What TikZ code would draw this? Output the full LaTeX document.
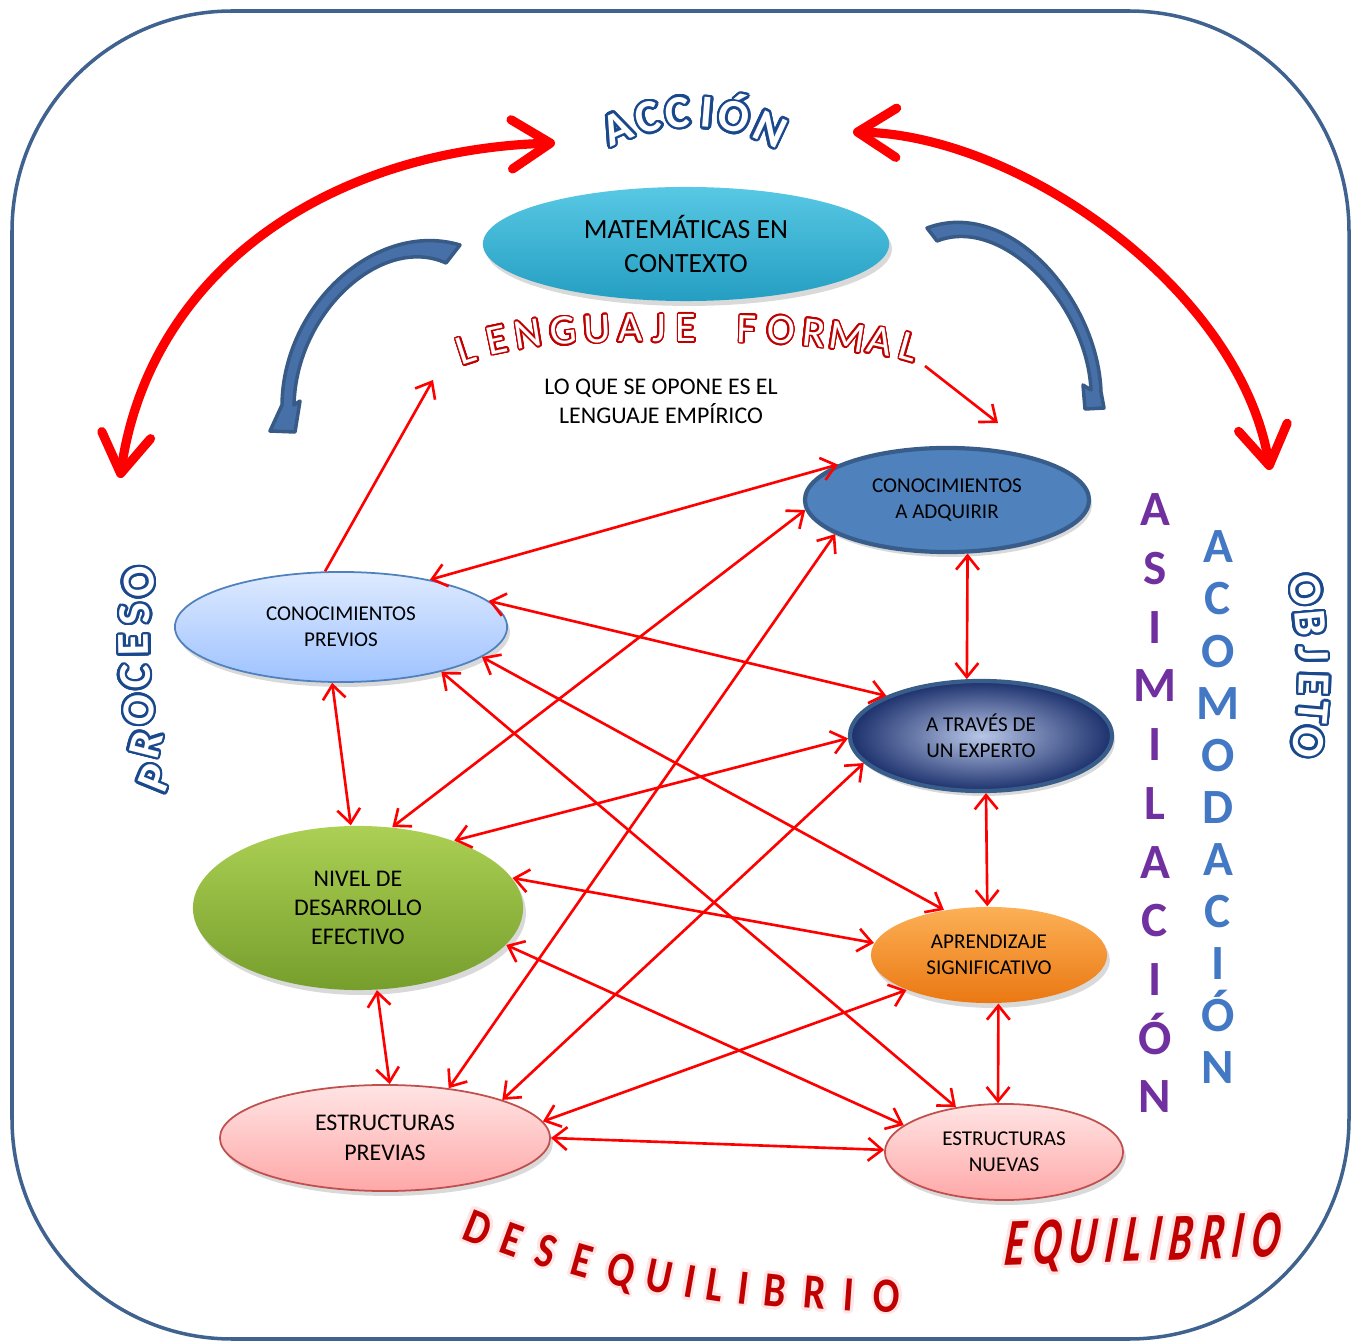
\documentclass[tikz,border=0pt]{standalone}
\usepackage{fontspec}
\setmainfont{Carlito}
\usepackage{contour}
\contourlength{0.7pt}
\contournumber{24}
\usetikzlibrary{shapes.geometric, arrows.meta, shadows}

\definecolor{marco}{RGB}{63,98,142}
\definecolor{azulosc}{RGB}{26,72,140}
\definecolor{granate}{RGB}{192,0,0}
\definecolor{morado}{RGB}{112,48,160}
\definecolor{acomoda}{RGB}{66,120,196}
\definecolor{flechazul}{RGB}{72,112,168}
\definecolor{flechazulb}{RGB}{55,90,135}

\tikzset{
  concepto/.style={ellipse, inner sep=0pt, align=center, text=black,
    drop shadow={opacity=.3, shadow xshift=.8pt, shadow yshift=-1.4pt}},
  flecha/.style={red, line width=.75pt, >={Straight Barb[length=4pt,width=6.5pt]}},
  doble/.style={flecha, <->},
  ciclo/.style={red, line width=2.6pt, line cap=round,
    >={Straight Barb[length=11pt,width=14pt,round]}, <->},
  giro/.style={fill=flechazul, draw=flechazulb, line width=1pt, line join=round},
  rotulo/.style={text=white, font=\bfseries\fontsize{13}{13}\selectfont,
    inner sep=0pt, text height=8.4pt, text depth=0pt},
  lengua/.style={text=white, font=\fontsize{12}{12}\selectfont,
    inner sep=0pt, text height=7.7pt, text depth=0pt},
  vertical/.style={font=\bfseries\fontsize{14}{14}\selectfont,
    inner sep=0pt, text height=9pt, text depth=0pt},
  desequi/.style={text=granate, font=\bfseries\fontsize{14}{14}\selectfont,
    inner sep=0pt, text height=9pt, text depth=0pt}
}

\begin{document}
\begin{tikzpicture}[x=0.01cm, y=-0.01cm]
\useasboundingbox (0,0) rectangle (1360,1343);
\draw[marco, line width=1pt, rounded corners=2.2cm] (12,11) rectangle (1349,1339);

% conceptos
\node[concepto, top color={rgb,255:red,88;green,200;blue,228}, bottom color={rgb,255:red,36;green,158;blue,194},
  minimum width=4.06cm, minimum height=1.14cm, font=\fontsize{7.9}{9.4}\selectfont]
  (mat) at (686,244) {MATEMÁTICAS EN\\CONTEXTO};
\node[concepto, fill={rgb,255:red,79;green,129;blue,189}, draw={rgb,255:red,56;green,93;blue,138}, line width=1.2pt,
  minimum width=2.84cm, minimum height=1.04cm, font=\fontsize{6}{7.6}\selectfont]
  (adq) at (947,500) {CONOCIMIENTOS\\A ADQUIRIR};
\node[concepto, top color={rgb,255:red,222;green,234;blue,255}, bottom color={rgb,255:red,158;green,194;blue,255},
  draw={rgb,255:red,79;green,129;blue,189}, line width=.5pt,
  minimum width=3.32cm, minimum height=1.10cm, font=\fontsize{6}{7.4}\selectfont]
  (prev) at (341,627) {CONOCIMIENTOS\\PREVIOS};
\node[concepto, inner color={rgb,255:red,184;green,198;blue,232}, outer color={rgb,255:red,28;green,48;blue,108},
  draw={rgb,255:red,56;green,93;blue,138}, line width=1.2pt,
  minimum width=2.62cm, minimum height=1.10cm, font=\fontsize{6}{7.4}\selectfont]
  (exp) at (981,736) {A TRAVÉS DE\\UN EXPERTO};
\node[concepto, top color={rgb,255:red,172;green,208;blue,84}, bottom color={rgb,255:red,118;green,158;blue,44},
  minimum width=3.30cm, minimum height=1.64cm, font=\fontsize{6.8}{8.3}\selectfont]
  (niv) at (358,908) {NIVEL DE\\DESARROLLO\\EFECTIVO};
\node[concepto, top color={rgb,255:red,252;green,176;blue,86}, bottom color={rgb,255:red,234;green,120;blue,18},
  minimum width=2.36cm, minimum height=0.96cm, font=\fontsize{6}{7.4}\selectfont]
  (apr) at (989,955) {APRENDIZAJE\\SIGNIFICATIVO};
\node[concepto, top color={rgb,255:red,255;green,228;blue,228}, bottom color={rgb,255:red,255;green,168;blue,168},
  draw={rgb,255:red,192;green,80;blue,77}, line width=.5pt,
  minimum width=3.30cm, minimum height=1.06cm, font=\fontsize{6.8}{8.5}\selectfont]
  (epr) at (385,1138) {ESTRUCTURAS\\PREVIAS};
\node[concepto, top color={rgb,255:red,255;green,228;blue,228}, bottom color={rgb,255:red,255;green,168;blue,168},
  draw={rgb,255:red,192;green,80;blue,77}, line width=.5pt,
  minimum width=2.38cm, minimum height=0.96cm, font=\fontsize{6}{7.4}\selectfont]
  (enu) at (1004,1152) {ESTRUCTURAS\\NUEVAS};

\node[align=center, font=\fontsize{6.8}{8.3}\selectfont] (opone) at (661,401)
  {LO QUE SE OPONE ES EL\\LENGUAJE EMPÍRICO};

% rotulos en arco
\foreach \l/\a in {A/114.1, C/103.8, C/94.4, I/85.3, Ó/76.8, N/64.9}
  \node[rotulo, rotate=\a-90] at ([shift={(692,296)}] -\a:184) {\contour{azulosc}{\l}};
\foreach \l/\x/\y/\r in {P/155/778/68, R/146/744/76, O/139/710/82, C/135/677/87,
                          E/134/645/91, S/135/614/95, O/139/582/100}
  \node[rotulo, rotate=\r] at (\x,\y) {\contour{azulosc}{\l}};
\foreach \l/\x/\y/\r in {O/1306/590/-80, B/1310/623/-85, J/1313/654/-89,
                          E/1314/684/-92, T/1313/712/-95, O/1308/742/-100}
  \node[rotulo, rotate=\r] at (\x,\y) {\contour{azulosc}{\l}};
\foreach \l/\x/\y/\r in {L/466/350/18, E/497/340/12, N/528/334/9, G/563/331/6,
                          U/597/329/3, A/630/328/1, J/659/328/0, E/686/328/0,
                          F/747/329/-2, O/781/330/-4, R/814/333/-6, M/847/337/-9,
                          A/880/341/-12, L/909/347/-16}
  \node[lengua, rotate=\r] at (\x,\y) {\contourlength{.45pt}\contour{granate}{\l}};

% columnas
\foreach \l [count=\i from 0] in {A,S,I,M,I,L,A,C,I,Ó,N}
  \node[vertical, text=morado] at (1155,{510+58.7*\i}) {\l};
\foreach \l [count=\i from 0] in {A,C,O,M,O,D,A,C,I,Ó,N}
  \node[vertical, text=acomoda] at (1218,{547+52.1*\i}) {\l};

% desequilibrio / equilibrio
\foreach \l/\x/\y/\r in {D/478/1228/-22, E/512/1240/-20, S/546/1251/-18, E/582/1261/-16,
                          Q/621/1270/-14, U/659/1277/-12, I/690/1282/-10, L/715/1285/-9,
                          I/744/1288/-7, B/775/1291/-6, R/815/1293/-5, I/849/1295/-4, O/887/1296/-3}
  \node[desequi, rotate=\r] at (\x,\y) {\contourlength{.8pt}\contour{red!10}{\scalebox{.8}[1]{\l}}};
\node[desequi, font=\bfseries\fontsize{19}{19}\selectfont, text height=12pt, rotate=2] (equi) at (1139,1240)
  {\contourlength{.8pt}\contour{red!10}{\scalebox{.62}[1]{\addfontfeatures{LetterSpace=20, FakeSlant=0.35}EQUILIBRIO}}};

% flechas grandes
\coordinate (accL) at (555,143);
\coordinate (accR) at (853,132);
\coordinate (proc) at (120,478);
\coordinate (obj) at (1270,470);
\draw[ciclo] (accL) .. controls (330,150) and (150,270) .. (proc);
\draw[ciclo] (accR) .. controls (1020,135) and (1240,290) .. (obj);

% flechas azules
\draw[giro] (460,245) .. controls (376,220) and (283,305) .. (282,405) -- (270,431) -- (295,432)
  -- (300,401) -- (294,405) .. controls (296,312) and (382,234) .. (446,263) -- cycle;
\draw[giro] (927,228) .. controls (1010,197) and (1098,300) .. (1101,392) -- (1104,408) -- (1085,409)
  -- (1083,385) -- (1091,390) .. controls (1087,305) and (1003,215) .. (937,241) -- cycle;

% conexiones
\coordinate (lf1) at (433,380);
\coordinate (lf2) at (925,366);
\coordinate (lf3) at (998,423);
\draw[flecha, ->] (prev.106) -- (lf1);
\draw[flecha, ->] (lf2) -- (lf3);
\draw[doble] (adq.162) -- (prev.28);
\draw[doble] (adq.184) -- (niv.67);
\draw[doble] (adq.197) -- (epr.38);
\draw[doble] (adq.291) -- (exp.104);
\draw[doble] (prev.10) -- (exp.157);
\draw[doble] (prev.348) -- (apr.135);
\draw[doble] (prev.336) -- (enu.137);
\draw[doble] (prev.261) -- (niv.95);
\draw[doble] (exp.181) -- (niv.35);
\draw[doble] (exp.193) -- (epr.18);
\draw[doble] (exp.275) -- (apr.92);
\draw[doble] (niv.11) -- (apr.174);
\draw[doble] (niv.346) -- (enu.165);
\draw[doble] (niv.283) -- (epr.85);
\draw[doble] (apr.203) -- (epr.6);
\draw[doble] (apr.281) -- (enu.97);
\draw[doble] (epr.0) -- (enu.179);
\end{tikzpicture}
\end{document}
